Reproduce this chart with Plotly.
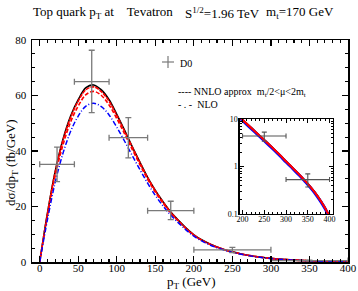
import plotly.graph_objects as go

# ---------------- data ----------------
pt = [0, 10, 20, 30, 40, 50, 60, 70, 80, 90, 100, 110, 120, 130, 140, 150, 160, 170, 180, 190,
      200, 210, 220, 230, 240, 250, 260, 270, 280, 290, 300, 310, 320, 330, 340, 350, 360, 370, 380, 390, 400]

nnlo_central = [0, 17.5, 32.5, 44.0, 52.5, 58.5, 62.8, 63.8, 62.0, 58.5, 53.2, 47.5, 41.6, 36.0, 30.5, 25.8, 21.7, 18.0, 15.0, 12.2,
                9.8, 8.0, 6.6, 5.4, 4.45, 3.65, 3.0, 2.45, 2.0, 1.62, 1.3, 1.06, 0.85, 0.69, 0.55, 0.44, 0.34, 0.26, 0.19, 0.135, 0.09]

nnlo_upper = [0, 17.3, 32.2, 43.6, 52.0, 58.0, 62.1, 63.1, 61.4, 57.9, 52.8, 47.2, 41.4, 35.8, 30.4, 25.7, 21.6, 17.9, 14.9, 12.1,
              9.75, 7.95, 6.55, 5.37, 4.42, 3.63, 2.98, 2.44, 1.99, 1.61, 1.29, 1.05, 0.845, 0.685, 0.547, 0.437, 0.338, 0.258, 0.189, 0.134, 0.089]

nnlo_lower = [0, 16.6, 31.0, 42.0, 50.4, 56.2, 60.3, 61.5, 60.0, 56.6, 51.7, 46.3, 40.6, 35.1, 29.8, 25.2, 21.2, 17.6, 14.7, 11.9,
              9.6, 7.85, 6.45, 5.3, 4.37, 3.59, 2.95, 2.41, 1.97, 1.6, 1.28, 1.04, 0.84, 0.68, 0.543, 0.434, 0.336, 0.256, 0.188, 0.133, 0.088]

nlo = [0, 15.2, 28.6, 39.0, 47.0, 52.6, 56.2, 57.2, 56.0, 53.0, 48.6, 43.6, 38.4, 33.3, 28.4, 24.0, 20.2, 16.9, 14.1, 11.5,
       9.3, 7.6, 6.25, 5.15, 4.23, 3.48, 2.86, 2.34, 1.91, 1.55, 1.24, 1.01, 0.815, 0.66, 0.527, 0.42, 0.326, 0.248, 0.182, 0.129, 0.085]

d0_x = [22.5, 67.5, 115, 170, 250, 350]
d0_xerr = [22.5, 22.5, 25, 30, 50, 50]
d0_y = [35.2, 65.0, 44.8, 18.5, 4.4, 0.53]
d0_yerr_up = [6.2, 11.3, 7.2, 3.4, 0.9, 0.17]
d0_yerr_dn = [6.2, 11.2, 7.3, 3.2, 1.0, 0.16]

main_xticks = [0, 50, 100, 150, 200, 250, 300, 350, 400]
main_yticks = [0, 20, 40, 60, 80]
inset_xticks = [200, 250, 300, 350, 400]
inset_yticks = [0.1, 1, 10]
inset_yticklabels = ["0.1", "1", "10"]
inset_yminor = [0.2, 0.3, 0.4, 0.5, 0.6, 0.7, 0.8, 0.9, 2, 3, 4, 5, 6, 7, 8, 9]

# ---------------- geometry helpers ----------------
W, H = 358, 291
def px(x):
    return x / W
def py(y):
    return 1 - y / H

FONT = "Liberation Serif"
GREY = "#7a7a7a"

fig = go.Figure()

# inset subset
ins = [i for i, v in enumerate(pt) if v >= 190]
pt_i = [pt[i] for i in ins]

# main curves
fig.add_trace(go.Scatter(x=pt, y=nnlo_central, mode="lines", line=dict(color="black", width=1.6, shape="spline"),
                         xaxis="x", yaxis="y"))
fig.add_trace(go.Scatter(x=pt, y=nnlo_upper, mode="lines", line=dict(color="red", width=1.6, dash="4px,1px", shape="spline"),
                         xaxis="x", yaxis="y"))
fig.add_trace(go.Scatter(x=pt, y=nnlo_lower, mode="lines", line=dict(color="red", width=1.6, dash="4px,2px", shape="spline"),
                         xaxis="x", yaxis="y"))
fig.add_trace(go.Scatter(x=pt, y=nlo, mode="lines", line=dict(color="blue", width=1.5, dash="5px,2px,1px,2px", shape="spline"),
                         xaxis="x", yaxis="y"))

# main data
fig.add_trace(go.Scatter(x=d0_x, y=d0_y, mode="markers", marker=dict(size=0.1, color=GREY),
                         error_x=dict(type="data", array=d0_xerr, color=GREY, thickness=1.3, width=3),
                         error_y=dict(type="data", array=d0_yerr_up, arrayminus=d0_yerr_dn, color=GREY, thickness=1.3, width=3),
                         xaxis="x", yaxis="y"))

# inset curves
fig.add_trace(go.Scatter(x=pt_i, y=[nnlo_central[i] for i in ins], mode="lines", line=dict(color="black", width=1.5, shape="spline"),
                         xaxis="x2", yaxis="y2"))
fig.add_trace(go.Scatter(x=pt_i, y=[nlo[i] for i in ins], mode="lines", line=dict(color="blue", width=3, shape="spline"),
                         xaxis="x2", yaxis="y2"))
fig.add_trace(go.Scatter(x=pt_i, y=[nnlo_lower[i] for i in ins], mode="lines", line=dict(color="red", width=1.8, shape="spline"),
                         xaxis="x2", yaxis="y2"))
fig.add_trace(go.Scatter(x=pt_i, y=[nnlo_upper[i] for i in ins], mode="lines", line=dict(color="red", width=1.8, shape="spline"),
                         xaxis="x2", yaxis="y2"))
fig.add_trace(go.Scatter(x=d0_x[4:], y=d0_y[4:], mode="markers", marker=dict(size=0.1, color="#555555"),
                         error_x=dict(type="data", array=d0_xerr[4:], color="#555555", thickness=1.1, width=2.5),
                         error_y=dict(type="data", array=d0_yerr_up[4:], arrayminus=d0_yerr_dn[4:], color="#555555", thickness=1.1, width=2.5),
                         xaxis="x2", yaxis="y2"))

axis_common = dict(showgrid=False, zeroline=False, showline=True, linecolor="black", mirror="ticks",
                   ticks="inside", tickcolor="black", fixedrange=True, automargin=False)

fig.update_layout(
    template="none",
    width=W, height=H,
    margin=dict(l=0, r=0, t=0, b=0, pad=0),
    paper_bgcolor="white", plot_bgcolor="white",
    showlegend=False,
    font=dict(family=FONT, color="black", size=11),
    xaxis=dict(domain=[px(32), px(348)], range=[-10, 400], anchor="y",
               tickvals=main_xticks, ticklen=6, tickwidth=1.2, linewidth=1.5, ticklabelstandoff=-5,
               minor=dict(dtick=10, tick0=0, ticklen=3, ticks="inside", tickcolor="black", tickwidth=1.2),
               tickfont=dict(size=11, family=FONT), **axis_common),
    yaxis=dict(domain=[py(262), py(40)], range=[0, 80], anchor="x",
               tickvals=main_yticks, ticklen=6, tickwidth=1.2, linewidth=1.5, ticklabelstandoff=2,
               minor=dict(dtick=5, tick0=0, ticklen=3, ticks="inside", tickcolor="black", tickwidth=1.2),
               tickfont=dict(size=11, family=FONT), **axis_common),
    xaxis2=dict(domain=[px(239.5), px(333)], range=[193, 408], anchor="y2",
                tickvals=inset_xticks, ticklen=4, tickwidth=1, linewidth=1.2, ticklabelstandoff=-3,
                minor=dict(dtick=10, tick0=0, ticklen=2, ticks="inside", tickcolor="black", tickwidth=1),
                tickfont=dict(size=8, family=FONT), **axis_common),
    yaxis2=dict(domain=[py(214), py(119)], type="log", range=[-1, 1], anchor="x2",
                tickvals=inset_yticks, ticktext=inset_yticklabels, ticklen=4, tickwidth=1, linewidth=1.2,
                ticklabelstandoff=-1,
                minor=dict(tickvals=inset_yminor, ticklen=2, ticks="inside", tickcolor="black", tickwidth=1),
                tickfont=dict(size=8, family=FONT), **axis_common),
)

ann = []
def txt(x, y, s, size, xanchor="left", angle=0):
    ann.append(dict(x=px(x), y=py(y), xref="paper", yref="paper", text=s, showarrow=False,
                    xanchor=xanchor, yanchor="middle", textangle=angle,
                    font=dict(family=FONT, size=size, color="black")))

txt(31, 13, "Top quark p<sub>T</sub> at&nbsp;&nbsp;&nbsp;&nbsp;Tevatron", 13)
txt(183, 13, "S<sup>1/2</sup>=1.96 TeV", 13)
txt(264, 13, "m<sub>t</sub>=170 GeV", 13)
txt(191, 282, "p<sub>T</sub> (GeV)", 13, xanchor="center")
txt(11, 163, "dσ/dp<sub>T</sub> (fb/GeV)", 13, xanchor="center", angle=-90)
txt(178, 63, "D0", 10)
txt(176, 92, "---- NNLO approx&nbsp;&nbsp;m<sub>t</sub>/2&lt;μ&lt;2m<sub>t</sub>", 10)
txt(176, 104, "- . -&nbsp;&nbsp;NLO", 10)
fig.update_layout(annotations=ann)

# legend "+" symbol
fig.add_shape(type="line", xref="paper", yref="paper", x0=px(162), x1=px(174), y0=py(62), y1=py(62),
              line=dict(color=GREY, width=1.2))
fig.add_shape(type="line", xref="paper", yref="paper", x0=px(168), x1=px(168), y0=py(56), y1=py(68),
              line=dict(color=GREY, width=1.2))

fig.write_html("out.html", config={"displayModeBar": False, "staticPlot": True},
               post_script="document.body.style.margin='0px';")
